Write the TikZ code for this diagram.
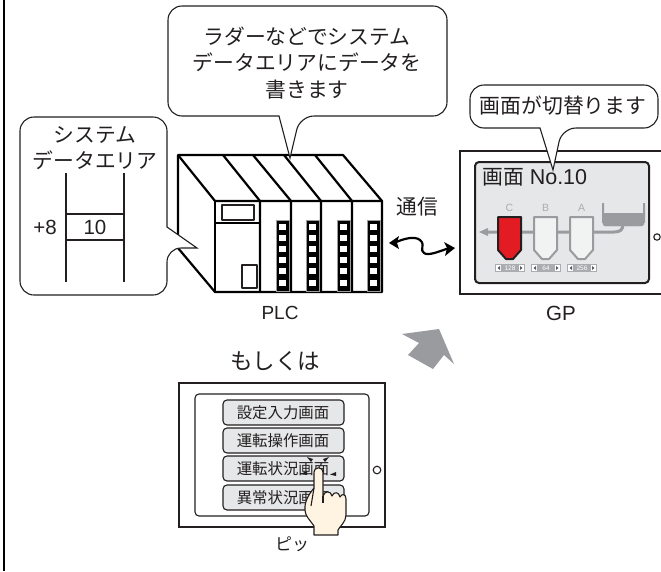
\documentclass[tikz,border=0pt]{standalone}
\usepackage{fontspec}
\setmainfont{Liberation Sans}
\newfontfamily\cjk{Noto Sans CJK JP}
\definecolor{ink}{RGB}{35, 31, 32}
\definecolor{screen}{RGB}{230, 231, 232}
\definecolor{pipe}{RGB}{153, 155, 158}
\definecolor{faint}{RGB}{170, 172, 175}
\definecolor{hopper}{RGB}{241, 242, 242}
\definecolor{redfill}{RGB}{227, 28, 35}
\definecolor{skin}{RGB}{255, 244, 226}
\tikzset{
  callout/.style={draw=ink, fill=white, line width=1.1pt},
  jp/.style={text=ink, font=\fontsize{20.8}{26.5}\selectfont\cjk, align=center, inner sep=0pt},
  latin/.style={text=ink, font=\fontsize{20.5}{23}\selectfont, inner sep=0pt},
  plcline/.style={draw=black, line width=2.2pt, line join=round},
  frame/.style={draw=ink, line width=2.8pt},
  btn/.style={draw=ink, fill=screen, line width=1.1pt, rounded corners=4pt},
  btntext/.style={text=ink, font=\fontsize{15.4}{18}\selectfont\cjk, inner sep=0pt},
  thin/.style={draw=ink, line width=1.1pt}
}
\begin{document}
\begin{tikzpicture}[x=1pt, y=-1pt]
  \useasboundingbox (0, 0) rectangle (661, 571);
  % Left rule
  \fill [black] (3.3, 0) rectangle (5.3, 571);

  % PLC
  \draw [plcline, fill=white] (178, 155) -- (343, 155) -- (382, 201) -- (382, 292) -- (215, 292)
    -- (178, 248) -- cycle;
  \draw [plcline] (178, 155) -- (215, 201) -- (382, 201);
  \draw [plcline] (215, 201) -- (215, 292);
  \foreach \tx/\fx in {223/260, 253/291, 284/321, 315/352} {
    \draw [plcline] (\tx, 155) -- (\fx, 201) -- (\fx, 292);
  }
  \draw [plcline] (215, 223) -- (260, 223);
  \draw [plcline, draw=ink] (222, 205) rectangle (254, 220);
  \draw [plcline, draw=ink] (242, 265) rectangle (257, 288);
  \foreach \sx in {276, 306, 337, 367} {
    \fill [black, draw=pipe, line width=0.8pt] (\sx, 220) rectangle +(13, 71);
    \foreach \sy in {227, 238, 249, 260, 271, 283} {
      \fill [white] (\sx + 3.2, \sy - 3.3) rectangle +(6.6, 6.6);
    }
  }
  \node (plclabel) at (280, 313) [latin, font=\fontsize{19}{22}\selectfont] {PLC};

  % Callouts
  \draw [callout, rounded corners=14pt] (279, 116) -- (168, 116) -- (168, 6)
    -- (447, 6) -- (447, 116) -- (300, 116) [sharp corners] -- (290, 158) -- cycle;
  \node (laddertext) at (307, 63) [jp] {ラダーなどでシステム\\データエリアにデータを\\書きます};

  \draw [callout, rounded corners=14pt] (167, 227) -- (167, 117) -- (20, 117) -- (20, 295)
    -- (167, 295) -- (167, 248) [sharp corners] -- (197, 248) -- cycle;
  \node (areatext) at (95, 148) [jp] {システム\\データエリア};
  \draw [thin] (66, 173) -- (66, 282);
  \draw [thin] (124, 173) -- (124, 282);
  \draw [thin] (66, 214) -- (124, 214);
  \draw [thin] (66, 240) -- (124, 240);
  \node (offset) at (45, 227) [latin] {+8};
  \node (value) at (95, 227) [latin] {10};

  % Link
  \node (linktext) at (417, 207) [jp] {通信};
  \coordinate (linkplc) at (389, 243);
  \coordinate (linkgp) at (455, 248);
  \draw [black, line width=2.2pt] (394, 243) .. controls (405, 238) and (415, 236) .. (420, 240)
    .. controls (426, 245) and (419, 250) .. (424, 253) .. controls (428, 256) and (438, 252) .. (449, 248);
  \fill [black] (linkplc) -- (399, 236) -- (397, 243) -- (399, 249) -- cycle;
  \fill [black] (linkgp) -- (445, 256) -- (447, 248) -- (444, 242) -- cycle;

  % GP
  \draw [frame] (661, 151) -- (460, 151) -- (460, 294) -- (661, 294);
  \draw [draw=ink, fill=screen, line width=2pt, rounded corners=4pt] (475, 162) rectangle (649, 283);
  \draw [thin] (657, 237) circle (3.2);
  \node (gplabel) at (561, 313) [latin] {GP};

  \node (screentitle) at (482, 177) [latin, anchor=west, font=\fontsize{21.5}{24}\selectfont]
    {{\cjk\fontsize{20.8}{24}\selectfont 画面} No.10};

  % Pipe and tank
  \draw [draw=pipe, line width=3pt] (486, 232) -- (614, 232) .. controls (620, 232) and (623, 230) .. (623, 224);
  \fill [pipe] (479, 232) -- (488, 228) -- (488, 236) -- cycle;
  \draw [draw=pipe, line width=2pt] (603, 203) -- (603, 222) -- (605, 225) -- (641, 225) -- (644, 222) -- (644, 203);
  \fill [pipe, rounded corners=2pt] (603, 213) rectangle (644, 226);

  \foreach \hx/\hname/\hval/\hcol/\hdraw in {498/C/128/redfill/ink, 534/B/64/hopper/pipe, 570/A/256/hopper/pipe} {
    \draw [draw=\hdraw, fill=\hcol, line width=2pt, line join=round] (\hx, 217) -- +(23, 0) -- +(23, 33)
      -- +(15, 42) -- +(8, 42) -- +(0, 33) -- cycle;
    \node at (\hx + 11.5, 208) [text=faint, font=\fontsize{10.5}{12}\selectfont, inner sep=0pt] {\hname};
    \fill [faint] (\hx - 3, 264) rectangle +(30, 8);
    \fill [white] (\hx - 2, 265) rectangle +(5, 6);
    \fill [white] (\hx + 21, 265) rectangle +(5, 6);
    \fill [pipe!60!black] (\hx - 0.5, 268) -- +(2.5, -2) -- +(2.5, 2) -- cycle;
    \fill [pipe!60!black] (\hx + 24.5, 268) -- +(-2.5, -2) -- +(-2.5, 2) -- cycle;
    \node at (\hx + 12, 268) [text=white, font=\fontsize{6.5}{7}\selectfont, inner sep=0pt] {\hval};
  }

  \draw [callout, rounded corners=14pt] (540, 128) -- (470, 128) -- (470, 85) -- (658, 85) -- (658, 128)
    -- (562, 128) [sharp corners] -- (553, 170) -- cycle;
  \node (switchtext) at (563, 106) [jp] {画面が切替ります};

  % Arrow
  \fill [pipe] (402, 334) -- (439, 329) -- (454, 364) -- (444, 355) -- (433, 369) -- (408, 355) -- (419, 343) -- cycle;

  \node (ortext) at (275, 361) [jp, font=\fontsize{22.5}{26}\selectfont\cjk] {もしくは};

  % Touch panel
  \draw [frame] (179, 383) rectangle (385, 527);
  \draw [thin, rounded corners=4pt] (195, 394) rectangle (369, 516);
  \draw [thin] (377, 470) circle (3.8);
  \foreach \by/\bname in {400/設定入力画面, 428/運転操作画面, 456/運転状況画面, 485/異常状況画面} {
    \draw [btn] (223, \by) rectangle (344, \by + 25);
    \node at (283, \by + 12.5) [btntext] {\bname};
  }

  % Hand
  \fill [ink] (307, 457) -- (311, 462) -- (313, 459) -- cycle;
  \fill [ink] (329, 457) -- (325, 462) -- (323, 459) -- cycle;
  \fill [ink] (300, 474) -- (307, 471) -- (307, 475) -- cycle;
  \fill [ink] (330, 474.5) -- (336, 472) -- (336, 476) -- cycle;
  \draw [thin, fill=skin, line join=round] (314, 535) -- (314, 526)
    .. controls (310, 520) and (305, 516) .. (305, 510)
    .. controls (304, 500) and (311, 492) .. (314, 488)
    -- (314, 473) .. controls (314, 466) and (323, 466) .. (323, 473)
    -- (323, 496) .. controls (325, 490) and (331, 491) .. (332, 496)
    .. controls (334, 491) and (339, 492) .. (340, 497)
    .. controls (342, 493) and (346, 494) .. (346, 499)
    -- (346, 515) .. controls (346, 522) and (340, 526) .. (338, 530) -- (338, 535) -- cycle;
  \draw [thin] (314, 488) -- (311, 506);
  \draw [thin] (323, 496) -- (323, 503);

  \node (touchtext) at (292, 544) [btntext, font=\fontsize{17}{20}\selectfont\cjk] {ピッ};
\end{tikzpicture}
\end{document}
